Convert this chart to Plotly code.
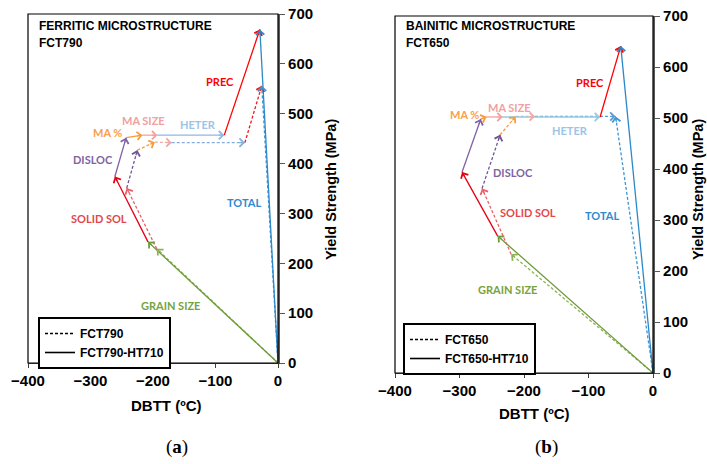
import math
import plotly.graph_objects as go

W, H = 707, 464

# ---------------- data ----------------
mechanisms = ["GRAIN SIZE", "SOLID SOL", "DISLOC", "MA %", "MA SIZE", "HETER", "PREC"]

# Panel (a) cumulative points: origin, then end of each mechanism
a_ht_dbtt = [0, -208, -261, -243, -217, -193, -86, -29]
a_ht_ys = [0, 243, 374, 452, 457, 457, 457, 669]
a_base_dbtt = [0, -194, -242, -225, -197, -170, -53, -26]
a_base_ys = [0, 229, 351, 427, 443, 442, 442, 556]

# Panel (b)
b_ht_dbtt = [0, -241, -296, -267, -258, -233, -82, -50]
b_ht_ys = [0, 269, 394, 498, 502, 502, 502, 641]
b_base_dbtt = [0, -220, -265, -237, -213, -183, -58, -58]
b_base_ys = [0, 233, 362, 467, 503, 503, 503, 503]

x_ticks = [-400, -300, -200, -100, 0]
y_ticks = [0, 100, 200, 300, 400, 500, 600, 700]

panel_titles = [["FERRITIC MICROSTRUCTURE", "FCT790"], ["BAINITIC MICROSTRUCTURE", "FCT650"]]
legend_names = [["FCT790", "FCT790-HT710"], ["FCT650", "FCT650-HT710"]]
panel_letters = ["a", "b"]

# ---------------- styles / layout ----------------
solid_colors = {"GRAIN SIZE": "#6E9C3A", "SOLID SOL": "#E60012", "DISLOC": "#7F62A8",
                "MA %": "#F79B3C", "MA SIZE": "#F4A0A0", "HETER": "#8DB8E2",
                "PREC": "#FF0000", "TOTAL": "#2A88C8"}
dash_colors = {"GRAIN SIZE": "#8DB255", "SOLID SOL": "#E86068", "DISLOC": "#6F5596",
               "MA %": "#F79B3C", "MA SIZE": "#F2A6A6", "HETER": "#86AEDC",
               "PREC": "#F01A1A", "TOTAL": "#3D95D4"}
label_colors = {"GRAIN SIZE": "#77A33E", "SOLID SOL": "#E4474B", "DISLOC": "#8064A2",
                "MA %": "#F9A04A", "MA SIZE": "#F2A0A0", "HETER": "#9DC3E6",
                "PREC": "#FF0000", "TOTAL": "#2E8BD0"}
panel_b_heter = ("#93CDE0", "#5B9BD5")

label_pos = [
    {"PREC": (-93, 565), "MA SIZE": (-216, 487), "HETER": (-128, 479), "MA %": (-273, 463),
     "DISLOC": (-296, 408), "SOLID SOL": (-287, 290), "TOTAL": (-54, 322), "GRAIN SIZE": (-172, 115)},
    {"PREC": (-98, 569), "MA SIZE": (-222, 520), "HETER": (-129, 475), "MA %": (-293, 506),
     "DISLOC": (-217, 394), "SOLID SOL": (-194, 315), "TOTAL": (-79, 308), "GRAIN SIZE": (-225, 163)},
]

# plot areas in pixels: left, right, top, bottom
areas = [(28, 278, 14, 363), (395, 653, 16, 373)]
ytitle_off = [53, 45]
xtitle_pos = [(166, 405), (534, 413)]
letter_pos = [(177, 447), (546, 447)]

panels = [
    (a_ht_dbtt, a_ht_ys, a_base_dbtt, a_base_ys),
    (b_ht_dbtt, b_ht_ys, b_base_dbtt, b_base_ys),
]

fig = go.Figure()
annotations = []
shapes = []

ARIAL = "Arial, Liberation Sans, sans-serif"
AXFONT = dict(family=ARIAL, size=15, color="black", weight="bold")
LBLFONT = "Lato, Carlito, Calibri, sans-serif"


def head(xref, yref, x0, y0, x1, y1, color, sx, sy, L=7):
    dx = (x1 - x0) * sx
    dy = -(y1 - y0) * sy
    n = math.hypot(dx, dy)
    if n == 0:
        return None
    return dict(x=x1, y=y1, xref=xref, yref=yref, ax=-dx / n * L, ay=-dy / n * L,
                axref="pixel", ayref="pixel", text="", showarrow=True,
                arrowhead=4, arrowsize=1.45, arrowwidth=1.1, arrowcolor=color, standoff=0)


for p, (hx, hy, bx, by) in enumerate(panels):
    l, r, t, b = areas[p]
    sfx = "" if p == 0 else "2"
    xa, ya = "x" + sfx, "y" + sfx
    sx = (r - l) / 400.0
    sy = (b - t) / 700.0
    leg = "legend" if p == 0 else "legend2"

    for xs, ys, dash, cols in ((bx, by, "3px,2px", dash_colors), (hx, hy, "solid", solid_colors)):
        for i, m in enumerate(mechanisms):
            c = cols[m]
            if m == "HETER" and p == 1:
                c = panel_b_heter[0] if dash == "solid" else panel_b_heter[1]
            x0, y0, x1, y1 = xs[i], ys[i], xs[i + 1], ys[i + 1]
            if x0 == x1 and y0 == y1:
                continue
            fig.add_trace(go.Scatter(x=[x0, x1], y=[y0, y1], mode="lines", xaxis=xa, yaxis=ya,
                                     line=dict(color=c, width=1.3, dash=dash),
                                     showlegend=False, hoverinfo="skip"))
            hd = head(xa, ya, x0, y0, x1, y1, c, sx, sy)
            if hd:
                annotations.append(hd)
        # total arrow
        c = cols["TOTAL"]
        fig.add_trace(go.Scatter(x=[xs[0], xs[-1]], y=[ys[0], ys[-1]], mode="lines", xaxis=xa, yaxis=ya,
                                 line=dict(color=c, width=1.3, dash=dash),
                                 showlegend=False, hoverinfo="skip"))
        annotations.append(head(xa, ya, xs[0], ys[0], xs[-1], ys[-1], c, sx, sy))

    # legend entries
    for name, dash in zip(legend_names[p], ("3px,2px", "solid")):
        fig.add_trace(go.Scatter(x=[None], y=[None], mode="lines", xaxis=xa, yaxis=ya, name=name,
                                 line=dict(color="black", width=1.6, dash=dash), legend=leg))

    # mechanism labels
    for m, (lx, ly) in label_pos[p].items():
        annotations.append(dict(x=lx, y=ly, xref=xa, yref=ya, text=m, showarrow=False,
                                xanchor="center", yanchor="middle",
                                font=dict(family=LBLFONT, size=11, color=label_colors[m], weight="bold")))

    # panel title
    for k, line in enumerate(panel_titles[p]):
        annotations.append(dict(x=(l + 9) / W, y=1 - (26 + 17 * k) / H, xref="paper", yref="paper",
                                xanchor="left", yanchor="middle", text=line, showarrow=False,
                                font=dict(family=ARIAL, size=12, color="black", weight="bold")))

    # axis titles
    tx, ty = xtitle_pos[p]
    annotations.append(dict(x=tx / W, y=1 - ty / H, xref="paper", yref="paper",
                            xanchor="center", yanchor="middle", text="DBTT (ºC)", showarrow=False,
                            font=dict(family=ARIAL, size=15, color="black", weight="bold")))
    annotations.append(dict(x=(r + ytitle_off[p]) / W, y=1 - 190 / H, xref="paper", yref="paper",
                            xanchor="center", yanchor="middle",
                            text="Yield Strength (MPa)", textangle=-90, showarrow=False,
                            font=dict(family=ARIAL, size=14.5, color="black", weight="bold")))
    lx_, ly_ = letter_pos[p]
    annotations.append(dict(x=lx_ / W, y=1 - ly_ / H, xref="paper", yref="paper",
                            xanchor="center", yanchor="middle",
                            text="(<b>" + panel_letters[p] + "</b>)", showarrow=False,
                            font=dict(family="Liberation Serif, DejaVu Serif, serif", size=19, color="black")))

    # frame
    shapes.append(dict(type="rect", xref=xa + " domain", yref=ya + " domain", x0=0, x1=1, y0=0, y1=1,
                       line=dict(color="black", width=1.2), layer="above"))

layout = dict(
    width=W, height=H, margin=dict(l=0, r=0, t=0, b=0, autoexpand=False),
    paper_bgcolor="white", plot_bgcolor="white",
    annotations=annotations, shapes=shapes,
)

for p in range(2):
    l, r, t, b = areas[p]
    sfx = "" if p == 0 else "2"
    layout["xaxis" + sfx] = dict(domain=[l / W, r / W], range=[-400, 0], tickvals=x_ticks,
                                 ticks="outside", ticklen=4, tickcolor="#404040",
                                 showline=True, linecolor="#404040", linewidth=1,
                                 showgrid=False, zeroline=False, tickfont=AXFONT, automargin=False,
                                 anchor="y" + sfx, fixedrange=True)
    layout["yaxis" + sfx] = dict(domain=[1 - b / H, 1 - t / H], range=[0, 700], tickvals=y_ticks,
                                 side="right", ticks="outside", ticklen=5, tickcolor="#595959",
                                 showline=True, linecolor="#595959", linewidth=2.2,
                                 showgrid=False, zeroline=False, tickfont=AXFONT, automargin=False,
                                 anchor="x" + sfx, fixedrange=True)

leg_common = dict(bgcolor="white", bordercolor="black", borderwidth=2,
                  font=dict(family=ARIAL, size=12, color="black", weight="bold"),
                  xanchor="left", yanchor="top", tracegroupgap=0, itemwidth=30)
layout["legend"] = dict(x=38 / W, y=1 - 317 / H, **leg_common)
layout["legend2"] = dict(x=403 / W, y=1 - 323 / H, **leg_common)

fig.update_layout(**layout)
fig.write_html("out.html")
